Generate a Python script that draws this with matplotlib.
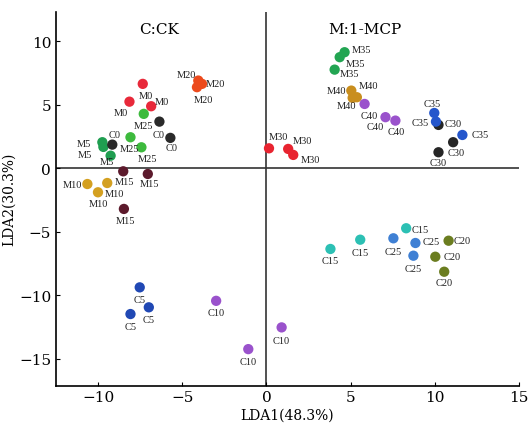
import matplotlib
matplotlib.use('Agg')
import matplotlib.pyplot as plt

# LDA scores per group (LDA1, LDA2), three replicates each
M0_x = [-7.35, -8.14, -6.85]
M0_y = [6.64, 5.24, 4.88]
M5_x = [-9.75, -9.69, -9.26]
M5_y = [2.05, 1.68, 0.99]
M10_x = [-10.64, -9.46, -10.01]
M10_y = [-1.24, -1.16, -1.89]
M15_x = [-8.51, -7.05, -8.47]
M15_y = [-0.24, -0.45, -3.20]
M20_x = [-4.05, -3.83, -4.13]
M20_y = [6.90, 6.64, 6.38]
M25_x = [-7.29, -8.08, -7.43]
M25_y = [4.28, 2.44, 1.65]
M30_x = [0.15, 1.29, 1.59]
M30_y = [1.57, 1.52, 1.05]
M35_x = [4.64, 4.35, 4.05]
M35_y = [9.13, 8.74, 7.76]
M40_x = [5.04, 5.37, 5.12]
M40_y = [6.11, 5.59, 5.54]
C0_x = [-6.36, -5.71, -9.16]
C0_y = [3.67, 2.39, 1.86]
C5_x = [-7.53, -6.99, -8.08]
C5_y = [-9.37, -10.94, -11.47]
C10_x = [-2.99, 0.90, -1.08]
C10_y = [-10.43, -12.52, -14.23]
C15_x = [3.80, 5.57, 8.30]
C15_y = [-6.35, -5.62, -4.72]
C20_x = [10.82, 10.03, 10.56]
C20_y = [-5.70, -6.96, -8.14]
C25_x = [7.54, 8.85, 8.73]
C25_y = [-5.51, -5.88, -6.88]
C30_x = [10.22, 11.09, 10.22]
C30_y = [3.41, 2.05, 1.26]
C35_x = [9.97, 10.07, 11.64]
C35_y = [4.35, 3.67, 2.62]
C40_x = [5.83, 7.07, 7.66]
C40_y = [5.06, 4.02, 3.75]

groups = [
    ('M0', M0_x, M0_y, '#e8293a'),
    ('M5', M5_x, M5_y, '#1f9e50'),
    ('M10', M10_x, M10_y, '#d4a020'),
    ('M15', M15_x, M15_y, '#5c1a2c'),
    ('M20', M20_x, M20_y, '#ec4a1c'),
    ('M25', M25_x, M25_y, '#3dba3d'),
    ('M30', M30_x, M30_y, '#e82430'),
    ('M35', M35_x, M35_y, '#22a552'),
    ('M40', M40_x, M40_y, '#c98e1e'),
    ('C0', C0_x, C0_y, '#2a2a2a'),
    ('C5', C5_x, C5_y, '#2048b4'),
    ('C10', C10_x, C10_y, '#9a52cc'),
    ('C15', C15_x, C15_y, '#2cc0b4'),
    ('C20', C20_x, C20_y, '#6b7d20'),
    ('C25', C25_x, C25_y, '#3f80d4'),
    ('C30', C30_x, C30_y, '#262626'),
    ('C35', C35_x, C35_y, '#2456cc'),
    ('C40', C40_x, C40_y, '#9a52cc'),
]

# label offsets in pixels (dx, dy downwards) for each point
label_offsets = {
    'M0': [(3, 12), (-9, 11), (11, -5)],
    'M5': [(-18, 1), (-18, 8), (-4, 6)],
    'M10': [(-15, 0), (7, 10), (0, 11)],
    'M15': [(1, 10), (2, 10), (2, 12)],
    'M20': [(-12, -6), (13, 0), (6, 12)],
    'M25': [(0, 12), (-1, 11), (6, 11)],
    'M30': [(9, -12), (14, -8), (17, 5)],
    'M35': [(17, -3), (16, 6), (15, 4)],
    'M40': [(-15, 0), (12, -12), (-6, 8)],
    'C0': [(-1, 13), (1, 10), (2, -10)],
    'C5': [(0, 12), (0, 12), (0, 12)],
    'C10': [(0, 12), (0, 13), (0, 12)],
    'C15': [(0, 12), (0, 13), (14, 1)],
    'C20': [(14, 0), (17, 0), (0, 11)],
    'C25': [(0, 13), (16, -1), (0, 13)],
    'C30': [(15, -1), (3, 10), (0, 10)],
    'C35': [(-2, -9), (-16, 1), (18, 0)],
    'C40': [(5, 12), (-10, 9), (1, 11)],
}

fig = plt.figure(figsize=(5.29, 4.31), dpi=100)
ax = fig.add_axes([0.106, 0.103, 0.875, 0.867])

for name, xs, ys, color in groups:
    ax.scatter(xs, ys, s=55, color=color, edgecolors='none', zorder=3)
    for (x, y), (dx, dy) in zip(zip(xs, ys), label_offsets[name]):
        ax.annotate(name, (x, y), xytext=(dx * 0.72, -dy * 0.72),
                    textcoords='offset points', ha='center', va='center',
                    fontsize=7.5, family='Liberation Serif', color='#222222',
                    zorder=4)

ax.axhline(0, color='#333333', lw=1.2, zorder=1)
ax.axvline(0, color='#333333', lw=1.2, zorder=1)

ax.text(-6.36, 10.97, 'C:CK', fontsize=11, family='DejaVu Serif',
        ha='center', va='center')
ax.text(5.83, 10.97, 'M:1-MCP', fontsize=11, family='DejaVu Serif',
        ha='center', va='center')

ax.set_xlim(-12.5, 15)
ax.set_ylim(-17.1, 12.3)
ax.set_xticks([-10, -5, 0, 5, 10, 15])
ax.set_yticks([-15, -10, -5, 0, 5, 10])
ax.spines['top'].set_visible(False)
ax.spines['right'].set_visible(False)
ax.spines['left'].set_linewidth(1.2)
ax.spines['bottom'].set_linewidth(1.2)
ax.tick_params(direction='in', length=3, labelsize=11)
for lab in ax.get_xticklabels() + ax.get_yticklabels():
    lab.set_family('DejaVu Serif')
ax.set_xlabel('LDA1(48.3%)', fontsize=10, family='DejaVu Serif', labelpad=2)
ax.set_ylabel('LDA2(30.3%)', fontsize=10, family='DejaVu Serif', labelpad=2)

fig.savefig('out.png', dpi=100)
